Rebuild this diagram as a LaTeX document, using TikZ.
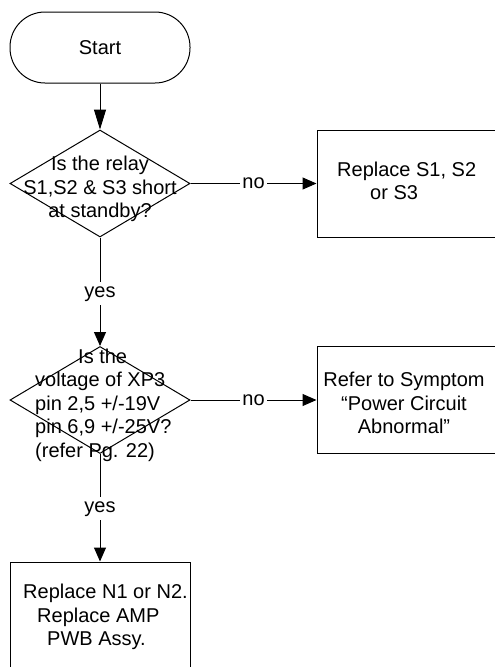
\documentclass[tikz,border=0pt]{standalone}
\usepackage{fontspec}
\setmainfont{Liberation Sans}
\usetikzlibrary{shapes.geometric,arrows.meta}
\begin{document}
\begin{tikzpicture}[x=1pt,y=1pt,
  every node/.style={font=\fontsize{20}{23.5}\selectfont, inner sep=0pt, text=black},
  lbl/.style={fill=white, inner xsep=2.5pt, inner ysep=4pt},
  arr/.style={-{Triangle[length=14pt,width=12pt]}, line width=1pt},
  arrlong/.style={-{Triangle[length=20pt,width=12pt]}, line width=1pt},
  decision/.style={draw, diamond, minimum width=180pt, minimum height=107pt, line width=1pt},
  box/.style={draw, rectangle, minimum width=180pt, minimum height=107pt, line width=1pt},
  term/.style={draw, rectangle, rounded corners=35pt, minimum width=180pt, minimum height=71pt, line width=1pt}
]
\useasboundingbox (0,0) rectangle (495,-667);
% shapes
\node[term] (start) at (100,-47.5) {Start};
\node[decision] (d1) at (100,-183.5) {};
\node[align=center] (t1) at (100,-189) {Is the relay\\S1,S2 \& S3 short\\at standby?};
\node[box] (b1) at (407,-183.5) {};
\node[align=left, anchor=west] (t2) at (337,-181) {Replace S1, S2\\\hspace*{33pt}or S3};
\node[decision] (d2) at (100,-400) {};
\node[align=left, anchor=west] (t3) at (35,-405) {\hspace*{43pt}Is the\\voltage of XP3\\pin 2,5 +/-19V\\pin 6,9 +/-25V?\\(refer Pg. 22)};
\node[box] (b2) at (407,-400) {};
\node[align=center] (t4) at (404,-403) {Refer to Symptom\\“Power Circuit\\Abnormal”};
\node[box] (b3) at (100,-615.5) {};
\node[align=left, anchor=west] (t5) at (23,-617) {Replace N1 or N2.\\\hspace*{14pt}Replace AMP\\\hspace*{24pt}PWB Assy.};
% connectors
\draw[arrlong] (start) -- (d1);
\draw[arr] (d1) -- node[lbl] (no1) {no} (b1);
\draw[arr] (d1) -- node[lbl, yshift=-2pt] (yes1) {yes} (d2);
\draw[arr] (d2) -- node[lbl] (no2) {no} (b2);
\draw[arr] (d2) -- node[lbl, yshift=-1pt] (yes2) {yes} (b3);
\end{tikzpicture}
\end{document}
